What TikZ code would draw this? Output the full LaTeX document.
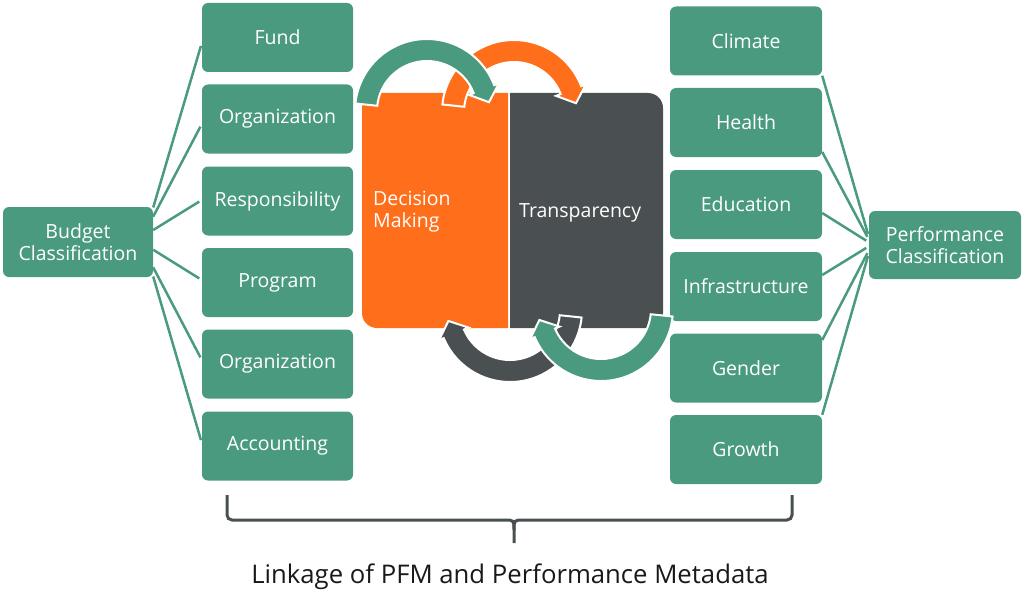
\documentclass[tikz,border=0pt]{standalone}
\usepackage{fontspec}
\setmainfont{Open Sans}
\usepackage{tikz}
\usetikzlibrary{calc}

\definecolor{pfmgreen}{RGB}{74,154,128}
\definecolor{pfmorange}{RGB}{255,110,26}
\definecolor{pfmdark}{RGB}{74,79,82}

\tikzset{
	catbox/.style={rectangle, rounded corners=6pt, fill=pfmgreen, text=white, inner sep=0pt,
		minimum width=151pt, minimum height=69pt, align=center,
		font=\fontsize{19.5}{22}\selectfont},
	link/.style={draw=pfmgreen, line width=2.5pt, shorten >=3pt},
	bigtext/.style={text=white, align=left, inner sep=0pt, font=\fontsize{19.5}{22}\selectfont},
	bracket/.style={draw=pfmdark, line width=3pt},
}

% curved block arrow: centre, start angle, end angle, colour
\newcommand\pfmarrow[4]{%
	\filldraw[fill=#4, draw=white, line width=2pt, line join=miter]
		($#1+(#2:72)$) arc[start angle=#2, end angle=#3, radius=72pt]
		-- ($#1+(#3:77)$) -- ($#1+(#3:61)+(#3-90:14)$) -- ($#1+(#3:45)$) -- ($#1+(#3:50)$)
		arc[start angle=#3, end angle=#2, radius=50pt] -- cycle;}

\begin{document}
\begin{tikzpicture}[x=1pt, y=1pt]
	\useasboundingbox (0,0) rectangle (1024,-607);

	\node[catbox, minimum width=150pt, minimum height=70pt] (budget) at (78,-242) {Budget\\Classification};
	\node[catbox] (fund) at (277.5,-37.5) {Fund};
	\node[catbox] (orgA) at (277.5,-119) {Organization};
	\node[catbox] (resp) at (277.5,-201) {Responsibility};
	\node[catbox] (prog) at (277.5,-282.5) {Program};
	\node[catbox] (orgB) at (277.5,-364) {Organization};
	\node[catbox] (acct) at (277.5,-446) {Accounting};

	\node[catbox, minimum width=152pt, minimum height=68pt] (perf) at (945,-245) {Performance\\Classification};
	\node[catbox, minimum width=152pt] (climate) at (746,-41) {Climate};
	\node[catbox, minimum width=152pt] (health) at (746,-122.5) {Health};
	\node[catbox, minimum width=152pt] (educ) at (746,-204.5) {Education};
	\node[catbox, minimum width=152pt] (infra) at (746,-286.5) {Infrastructure};
	\node[catbox, minimum width=152pt] (gender) at (746,-368) {Gender};
	\node[catbox, minimum width=152pt] (growth) at (746,-449.5) {Growth};

	\draw[link] ($(budget.north east)!0.01!(budget.south east)$) -- ([yshift=-5.5pt]fund.west);
	\draw[link] ($(budget.north east)!0.14!(budget.south east)$) -- ([yshift=-5pt]orgA.west);
	\draw[link] ($(budget.north east)!0.33!(budget.south east)$) -- ([yshift=1pt]resp.west);
	\draw[link] ($(budget.north east)!0.61!(budget.south east)$) -- ([yshift=2.5pt]prog.west);
	\draw[link] ($(budget.north east)!0.86!(budget.south east)$) -- ([yshift=4pt]orgB.west);
	\draw[link] ($(budget.north east)!0.99!(budget.south east)$) -- ([yshift=3pt]acct.west);

	\draw[link] (climate.south east) -- ($(perf.north west)!0.38!(perf.south west)$);
	\draw[link] ([yshift=-29.5pt]health.east) -- ($(perf.north west)!0.42!(perf.south west)$);
	\draw[link] ([yshift=-8.5pt]educ.east) -- ($(perf.north west)!0.46!(perf.south west)$);
	\draw[link] ([yshift=11.5pt]infra.east) -- ($(perf.north west)!0.52!(perf.south west)$);
	\draw[link] ([yshift=28pt]gender.east) -- ($(perf.north west)!0.58!(perf.south west)$);
	\draw[link] (growth.north east) -- ($(perf.north west)!0.62!(perf.south west)$);

	\fill[pfmorange] (508,-93) -- (377,-93) arc[start angle=90, end angle=180, radius=15pt]
		-- (362,-313) arc[start angle=180, end angle=270, radius=15pt] -- (508,-328) -- cycle;
	\fill[pfmdark] (510,-93) -- (648,-93) arc[start angle=90, end angle=0, radius=15pt]
		-- (663,-313) arc[start angle=0, end angle=-90, radius=15pt] -- (510,-328) -- cycle;
	\node[bigtext, anchor=west] (decision) at (373,-212) {Decision\\Making};
	\node[bigtext, anchor=west] (transp) at (519,-213) {Transparency};

	\pfmarrow{(514,-112)}{174}{21}{pfmorange}
	\pfmarrow{(427,-111)}{174}{21}{pfmgreen}
	\pfmarrow{(510,-310)}{-6}{-157}{pfmdark}
	\pfmarrow{(601,-309)}{-6}{-157}{pfmgreen}

	\draw[bracket] (227,-495) -- (227,-515) arc[start angle=180, end angle=270, radius=5pt]
		-- (504,-520) .. controls (514,-520) .. (514,-530) -- (514,-543);
	\draw[bracket] (792,-495) -- (792,-515) arc[start angle=0, end angle=-90, radius=5pt]
		-- (524,-520) .. controls (514,-520) .. (514,-530);
	\node[font=\fontsize{25.7}{30}\selectfont, text=black!90, inner sep=0pt] (caption) at (510,-577)
		{Linkage of PFM and Performance Metadata};
\end{tikzpicture}
\end{document}
